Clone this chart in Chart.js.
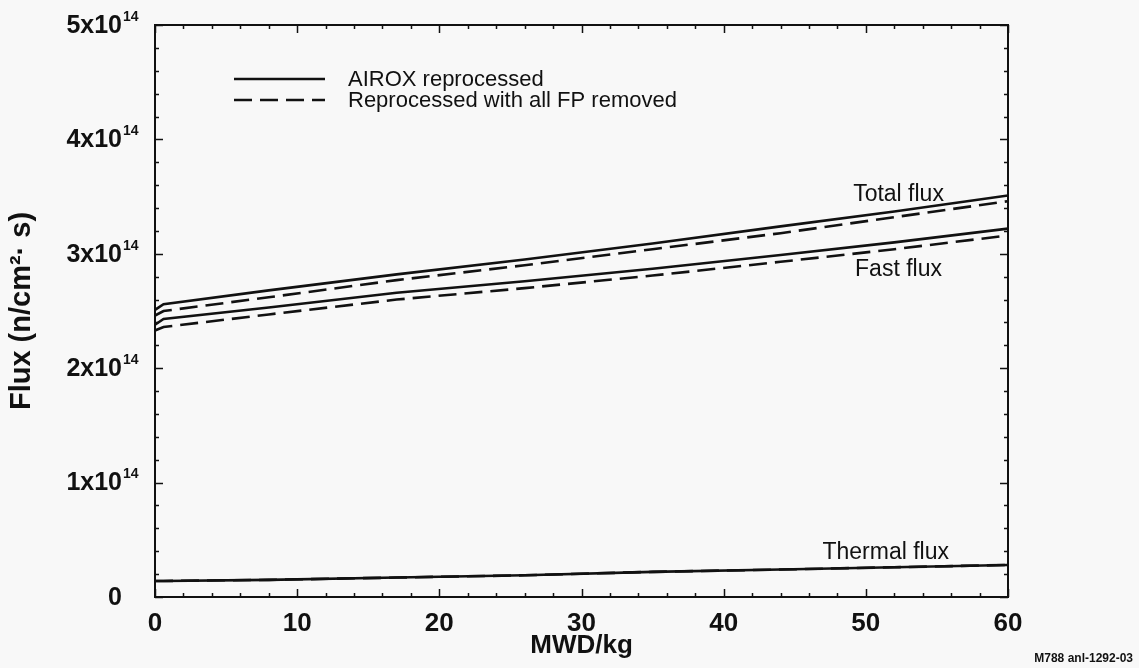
<!DOCTYPE html>
<html><head><meta charset="utf-8">
<script src="https://cdn.jsdelivr.net/npm/chart.js@4.4.1/dist/chart.umd.min.js"></script>
<style>html,body{margin:0;padding:0;background:#f8f8f8;}#wrap{width:1139px;height:668px;}</style>
</head><body><div id="wrap"><canvas id="c" width="1139" height="668"></canvas></div>
<script>
// Burnup (MWD/kg) and flux values in units of 1e14 n/cm^2·s
const burnup       = [0,    0.6,  8,    17,   26,   35,   44,   52,   60];
const totalAirox   = [2.51, 2.56, 2.68, 2.82, 2.95, 3.09, 3.24, 3.37, 3.51];
const totalNoFP    = [2.46, 2.50, 2.62, 2.77, 2.90, 3.04, 3.18, 3.32, 3.46];
const fastAirox    = [2.38, 2.43, 2.53, 2.66, 2.76, 2.87, 2.99, 3.10, 3.22];
const fastNoFP     = [2.33, 2.36, 2.47, 2.60, 2.70, 2.81, 2.93, 3.04, 3.16];
const thermalAirox = [0.14, 0.14, 0.15, 0.17, 0.19, 0.22, 0.24, 0.26, 0.28];
const thermalNoFP  = [0.14, 0.14, 0.15, 0.17, 0.19, 0.22, 0.24, 0.26, 0.28];

const xTickStep = 10, xMinorStep = 2;
const yTickStep = 1, yMinorStep = 0.2;
const yTickMantissa = ['0', '1x10', '2x10', '3x10', '4x10', '5x10'];
const yTickExponent = '14';
const legendLabels = ['AIROX reprocessed', 'Reprocessed with all FP removed'];
const curveLabels = [
  {text: 'Total flux',   x: 52.3, y: 3.52},
  {text: 'Fast flux',    x: 52.3, y: 2.86},
  {text: 'Thermal flux', x: 51.4, y: 0.385}
];
const xTitle = 'MWD/kg';
const yTitle = 'Flux (n/cm\u00B2\u00B7 s)';
const noteText = 'M788 anl-1292-03';

const FONT = '"Liberation Sans", Arial, Helvetica, sans-serif';
const INK = '#111';
const DASH = [18, 8];

function pts(arr){ return burnup.map((x,i)=>({x:x, y:arr[i]})); }
function ds(arr, dashed){
  return {data: pts(arr), borderColor: INK, borderWidth: 2.6, pointRadius: 0,
          borderDash: dashed ? DASH : [], fill: false, tension: 0};
}

const framePlugin = {
  id: 'frame',
  beforeDraw(chart){
    const c = chart.ctx;
    c.save(); c.fillStyle = '#f8f8f8'; c.fillRect(0,0,chart.width,chart.height); c.restore();
  },
  afterDraw(chart){
    const c = chart.ctx, a = chart.chartArea, xs = chart.scales.x, ys = chart.scales.y;
    c.save();
    c.strokeStyle = INK; c.lineWidth = 2;
    c.strokeRect(a.left, a.top, a.right - a.left, a.bottom - a.top);
    c.lineWidth = 1.5;
    for (let v = xs.min; v <= xs.max + 1e-9; v += xMinorStep) {
      const px = Math.round(xs.getPixelForValue(v)) + 0.5;
      const major = Math.abs(v / xTickStep - Math.round(v / xTickStep)) < 1e-6;
      const len = major ? 8 : 4;
      c.beginPath(); c.moveTo(px, a.bottom); c.lineTo(px, a.bottom - len); c.stroke();
      c.beginPath(); c.moveTo(px, a.top); c.lineTo(px, a.top + len); c.stroke();
    }
    for (let k = 0; k <= Math.round((ys.max - ys.min) / yMinorStep); k++) {
      const v = ys.min + k * yMinorStep;
      const py = Math.round(ys.getPixelForValue(v)) + 0.5;
      const major = k % Math.round(yTickStep / yMinorStep) === 0;
      const len = major ? 8 : 4;
      c.beginPath(); c.moveTo(a.left, py); c.lineTo(a.left + len, py); c.stroke();
      c.beginPath(); c.moveTo(a.right, py); c.lineTo(a.right - len, py); c.stroke();
    }
    c.fillStyle = INK;
    ys.ticks.forEach((t, i) => {
      const py = ys.getPixelForValue(t.value);
      const right = a.left - 33;
      c.font = 'bold 25px ' + FONT; c.textAlign = 'right'; c.textBaseline = 'middle';
      c.fillText(yTickMantissa[i], right, py + 1);
      if (i > 0) {
        c.font = 'bold 14px ' + FONT; c.textAlign = 'left';
        c.fillText(yTickExponent, right + 1, py - 8);
      }
    });
    const lx = a.left + 79, ly = a.top + 54, lw = 91, gap = 21;
    c.lineWidth = 2.4;
    c.beginPath(); c.moveTo(lx, ly); c.lineTo(lx + lw, ly); c.stroke();
    c.setLineDash(DASH);
    c.beginPath(); c.moveTo(lx, ly + gap); c.lineTo(lx + lw, ly + gap); c.stroke();
    c.setLineDash([]);
    c.font = '22px ' + FONT; c.textAlign = 'left'; c.textBaseline = 'middle';
    c.fillText(legendLabels[0], lx + lw + 23, ly + 1);
    c.fillText(legendLabels[1], lx + lw + 23, ly + gap + 1);
    c.font = '23px ' + FONT; c.textAlign = 'center';
    curveLabels.forEach(l => c.fillText(l.text, xs.getPixelForValue(l.x), ys.getPixelForValue(l.y)));
    c.font = 'bold 12px ' + FONT; c.textAlign = 'right';
    c.fillText(noteText, chart.width - 6, chart.height - 9);
    c.restore();
  }
};

new Chart(document.getElementById('c'), {
  type: 'line',
  data: { datasets: [
    ds(totalAirox, false), ds(totalNoFP, true),
    ds(fastAirox, false), ds(fastNoFP, true),
    ds(thermalNoFP, true), ds(thermalAirox, false)
  ]},
  options: {
    responsive: false, animation: false, devicePixelRatio: 1,
    layout: { padding: { left: 0, right: 131, top: 25, bottom: 0 } },
    plugins: { legend: { display: false }, tooltip: { enabled: false } },
    scales: {
      x: {
        type: 'linear', min: 0, max: 60,
        ticks: { stepSize: xTickStep, color: INK, padding: 3, font: { family: FONT, size: 26, weight: 'bold' } },
        grid: { display: false }, border: { display: false },
        title: { display: true, text: xTitle, color: INK, font: { family: FONT, size: 26, weight: 'bold' }, padding: { top: 0, bottom: 7 } },
        afterFit: s => { s.height = 71; }
      },
      y: {
        type: 'linear', min: 0, max: 5,
        ticks: { stepSize: yTickStep, display: false },
        grid: { display: false }, border: { display: false },
        title: { display: true, text: yTitle, color: INK, font: { family: FONT, size: 29, weight: 'bold' }, padding: { top: 5, bottom: 0 } },
        afterFit: s => { s.width = 155; }
      }
    }
  },
  plugins: [framePlugin]
});
</script>
</body></html>
